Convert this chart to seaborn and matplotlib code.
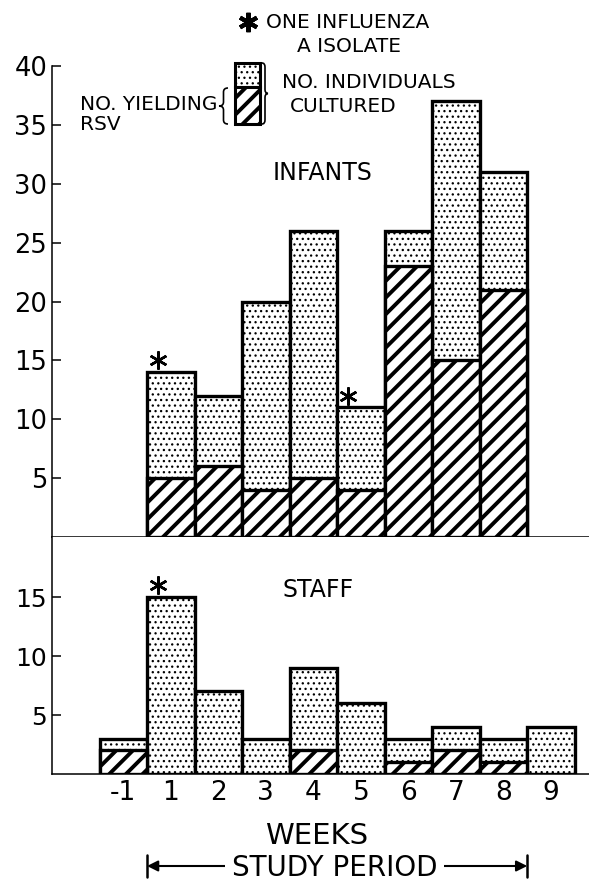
import matplotlib
matplotlib.use('Agg')
import matplotlib.pyplot as plt
import matplotlib.transforms as mtransforms
from matplotlib.patches import Rectangle, PathPatch
from matplotlib.path import Path
from matplotlib.lines import Line2D
import pandas as pd
import seaborn as sns

# week labels on the x axis
weeks = ['-1', '1', '2', '3', '4', '5', '6', '7', '8', '9']

# infants: no. cultured / no. yielding RSV
infant_weeks = ['1', '2', '3', '4', '5', '6', '7', '8']
infant_total = [14, 12, 20, 26, 11, 26, 37, 31]
infant_rsv = [5, 6, 4, 5, 4, 23, 15, 21]
infant_flu = ['1', '5']

# staff
staff_weeks = weeks
staff_total = [3, 15, 7, 3, 9, 6, 3, 4, 3, 4]
staff_rsv = [2, 0, 0, 0, 2, 0, 1, 2, 1, 0]
staff_flu = ['1']

W, H = 589, 883

sns.set_theme(style='white')
plt.rcParams['font.family'] = ['DejaVu Sans']
for k in ['text.color', 'axes.labelcolor', 'xtick.color', 'ytick.color', 'axes.edgecolor', 'hatch.color']:
    plt.rcParams[k] = 'black'


def fx(px):
    return px / W


def fy(py):
    return 1 - py / H


fig = plt.figure(figsize=(W / 100, H / 100), dpi=100)
ax1 = fig.add_axes([fx(52), fy(537), 1 - fx(52), fy(66) - fy(537)])
ax2 = fig.add_axes([fx(52), fy(774), 1 - fx(52), fy(537) - fy(774)])

DOT_LW = 0.9
HATCH_LW = 2.8


def set_hlw(patches, lw):
    for p in patches:
        if hasattr(p, 'set_hatch_linewidth'):
            p.set_hatch_linewidth(lw)


def draw_panel(ax, wk, total, rsv, flu):
    df = pd.DataFrame({'week': wk, 'total': total, 'rsv': rsv})
    n0 = len(ax.patches)
    with plt.rc_context({'hatch.linewidth': DOT_LW}):
        sns.barplot(data=df, x='week', y='total', order=weeks, ax=ax,
                    color='white', saturation=1, edgecolor='black',
                    linewidth=2.4, width=1.0, hatch='...', errorbar=None)
    set_hlw(ax.patches[n0:], DOT_LW)
    n1 = len(ax.patches)
    pos = df[df['rsv'] > 0]
    with plt.rc_context({'hatch.linewidth': HATCH_LW}):
        sns.barplot(data=pos, x='week', y='rsv', order=weeks, ax=ax,
                    color='white', saturation=1, edgecolor='black',
                    linewidth=2.4, width=1.0, hatch='//', errorbar=None)
    set_hlw(ax.patches[n1:], HATCH_LW)
    # influenza A isolates
    for w in flu:
        i = weeks.index(w)
        t = df.loc[df['week'] == w, 'total'].iloc[0]
        ax.plot(i - 0.27, t + 1.0, marker=(6, 2, 0), ms=13, mew=1.8,
                color='black', clip_on=False, zorder=5)


draw_panel(ax1, infant_weeks, infant_total, infant_rsv, infant_flu)
draw_panel(ax2, staff_weeks, staff_total, staff_rsv, staff_flu)

for ax in (ax1, ax2):
    ax.set_xlim(-1.5, 9.8)
    ax.set_xlabel('')
    ax.set_ylabel('')
    sns.despine(ax=ax)
    for s in ('left', 'bottom'):
        ax.spines[s].set_linewidth(1.1)
        ax.spines[s].set_color('black')
    ax.tick_params(axis='y', left=True, direction='in', length=6.5,
                   width=1.1, pad=3.5, labelsize=18.5)

ax1.set_ylim(0, 40)
ax1.set_yticks(range(5, 41, 5))
ax1.tick_params(axis='x', bottom=False, labelbottom=False)

ax2.set_ylim(0, 20.1)
ax2.set_yticks([5, 10, 15])
ax2.tick_params(axis='y', labelsize=18)
ax2.tick_params(axis='x', bottom=False, length=0, pad=4, labelsize=19)

# panel titles
fig.text(fx(323), fy(173), 'INFANTS', ha='center', va='center', fontsize=17)
fig.text(fx(318), fy(590), 'STAFF', ha='center', va='center', fontsize=17)

# legend: influenza asterisk
fig.add_artist(Line2D([fx(248)], [fy(22)], marker=(6, 2, 0), ms=14, mew=3,
                      color='black', transform=fig.transFigure))
fig.text(fx(266), fy(22), 'ONE INFLUENZA', ha='left', va='center', fontsize=14.5)
fig.text(fx(297), fy(47), 'A ISOLATE', ha='left', va='center', fontsize=14.5)

# legend: stacked key box
with plt.rc_context({'hatch.linewidth': DOT_LW}):
    r1 = Rectangle((fx(235), fy(87)), fx(260) - fx(235), fy(63) - fy(87),
                   transform=fig.transFigure, facecolor='white', edgecolor='black',
                   linewidth=2.2, hatch='...')
with plt.rc_context({'hatch.linewidth': HATCH_LW}):
    r2 = Rectangle((fx(235), fy(124)), fx(260) - fx(235), fy(87) - fy(124),
                   transform=fig.transFigure, facecolor='white', edgecolor='black',
                   linewidth=2.2, hatch='//')
set_hlw([r1], DOT_LW)
set_hlw([r2], HATCH_LW)
fig.add_artist(r1)
fig.add_artist(r2)


def brace(x_tip, x_back, y_top, y_bot):
    xm = (x_tip + x_back) / 2
    ym = (y_top + y_bot) / 2
    r = 4
    pts = [(x_back, y_top), (xm, y_top), (xm, y_top + r), (xm, ym - r),
           (xm, ym), (x_tip, ym), (xm, ym), (xm, ym + r), (xm, y_bot - r),
           (xm, y_bot), (x_back, y_bot)]
    codes = [Path.MOVETO, Path.CURVE3, Path.CURVE3, Path.LINETO,
             Path.CURVE3, Path.CURVE3, Path.CURVE3, Path.CURVE3, Path.LINETO,
             Path.CURVE3, Path.CURVE3]
    verts = [(fx(x), fy(y)) for x, y in pts]
    fig.add_artist(PathPatch(Path(verts, codes), transform=fig.transFigure,
                             facecolor='none', edgecolor='black', linewidth=1.2))


brace(219, 228, 88, 124)
brace(268, 262, 63, 124)

fig.text(fx(80), fy(104), 'NO. YIELDING', ha='left', va='center', fontsize=14.5)
fig.text(fx(80), fy(124), 'RSV', ha='left', va='center', fontsize=14.5)
fig.text(fx(282), fy(82), 'NO. INDIVIDUALS', ha='left', va='center', fontsize=14.5)
fig.text(fx(290), fy(107), 'CULTURED', ha='left', va='center', fontsize=14.5)

# x axis titles
fig.text(fx(317), fy(836), 'WEEKS', ha='center', va='center', fontsize=21)

trans = mtransforms.blended_transform_factory(ax2.transData, ax2.transAxes)
y_arrow = (774 - 866) / (774 - 537)
y_base = (774 - 876) / (774 - 537)
ax2.annotate('', xy=(0.5, y_arrow), xytext=(8.5, y_arrow), xycoords=trans, textcoords=trans,
             arrowprops=dict(arrowstyle='<|-|>', color='black', lw=1.5,
                             mutation_scale=16, shrinkA=0, shrinkB=0))
for xe in (0.5, 8.5):
    ax2.plot([xe, xe], [y_arrow - 0.045, y_arrow + 0.045], color='black', lw=1.8,
             transform=trans, clip_on=False)
ax2.text(4.45, y_base, 'STUDY PERIOD', transform=trans, ha='center', va='baseline',
         fontsize=20, bbox=dict(facecolor='white', edgecolor='none', pad=5))

fig.savefig('out.png', dpi=100)
